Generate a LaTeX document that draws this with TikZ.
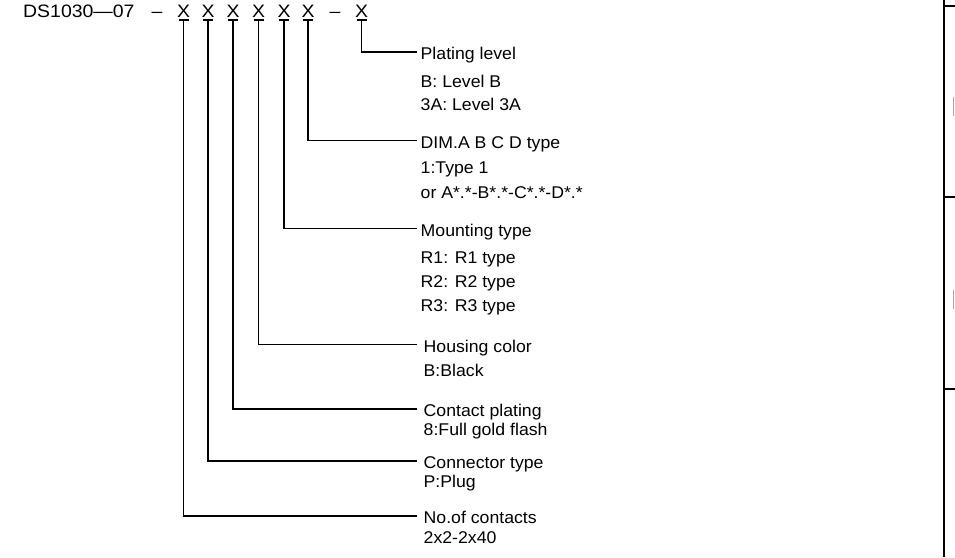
\documentclass[tikz,border=0pt]{standalone}
\usepackage{fontspec}
\setmainfont{Liberation Sans}
\newfontfamily\lblfont[FakeStretch=1.04]{Liberation Sans}
\newfontfamily\ttlfont[FakeStretch=1.08]{Liberation Sans}
\begin{document}
\begin{tikzpicture}[x=1pt,y=-1pt,
  lead/.style={line width=1.7pt,black},
  frame/.style={line width=2pt,black},
  ttl/.style={anchor=base,inner sep=0pt,font=\ttlfont\fontsize{18}{18}\selectfont},
  xch/.style={ttl,text depth=2.5pt},
  headA/.style={anchor=base west,inner ysep=0pt,inner xsep=3.5pt,text height=15pt,text depth=0pt,font=\lblfont\fontsize{17}{17}\selectfont},
  headB/.style={headA,inner xsep=6.5pt},
  sub/.style={anchor=base west,inner sep=0pt,font=\lblfont\fontsize{17}{17}\selectfont}]
\useasboundingbox (0,0) rectangle (955,557);
% title
\node[ttl,anchor=base west] (pn) at (23,17) {DS1030—07};
\node[ttl] (d1) at (157,17) {–};
\node[xch] (x1) at (183.5,17) {X};
\node[xch] (x2) at (208,17) {X};
\node[xch] (x3) at (233,17) {X};
\node[xch] (x4) at (258.5,17) {X};
\node[xch] (x5) at (284,17) {X};
\node[xch] (x6) at (308,17) {X};
\node[ttl] (d2) at (335,17) {–};
\node[xch] (x7) at (361.5,17) {X};
% headings
\node[headA] (h7) at (417,59.5) {Plating level};
\node[headA] (h6) at (417,148) {DIM.A B C D type};
\node[headA] (h5) at (417,236) {Mounting type};
\node[headB] (h4) at (417,352) {Housing color};
\node[headB] (h3) at (417,416.5) {Contact plating};
\node[headB] (h2) at (417,468.5) {Connector type};
\node[headB] (h1) at (417,523.5) {No.of contacts};
% sub lines
\node[sub] (s7a) at (420.5,87) {B: Level B};
\node[sub] (s7b) at (420.5,110) {3A: Level 3A};
\node[sub] (s6a) at (420.5,173) {1:Type 1};
\node[sub] (s6b) at (420.5,198) {or A*.*-B*.*-C*.*-D*.*};
\node[sub] (s5a) at (420.5,263) {R1: R1 type};
\node[sub] (s5b) at (420.5,287) {R2: R2 type};
\node[sub] (s5c) at (420.5,311) {R3: R3 type};
\node[sub] (s4a) at (423.5,376) {B:Black};
\node[sub] (s3a) at (423.5,435) {8:Full gold flash};
\node[sub] (s2a) at (423.5,487) {P:Plug};
\node[sub] (s1a) at (423.5,543) {2x2-2x40};
% leaders
\foreach \i in {1,...,7}{
  \draw[lead] ([xshift=-5pt]x\i.south) -- ([xshift=5pt]x\i.south);
  \draw[lead] (x\i.south) |- (h\i.west);
}
% right frame
\draw[frame] (944,0) -- (944,557);
\draw[frame] (944,6) -- (955,6);
\draw[frame] (944,197) -- (955,197);
\draw[frame] (944,389) -- (955,389);
\draw[gray!70,line width=0.8pt] (953.5,97) -- (953.5,116);
\draw[gray!70,line width=0.8pt] (953.5,290) -- (953.5,309);
\end{tikzpicture}
\end{document}
